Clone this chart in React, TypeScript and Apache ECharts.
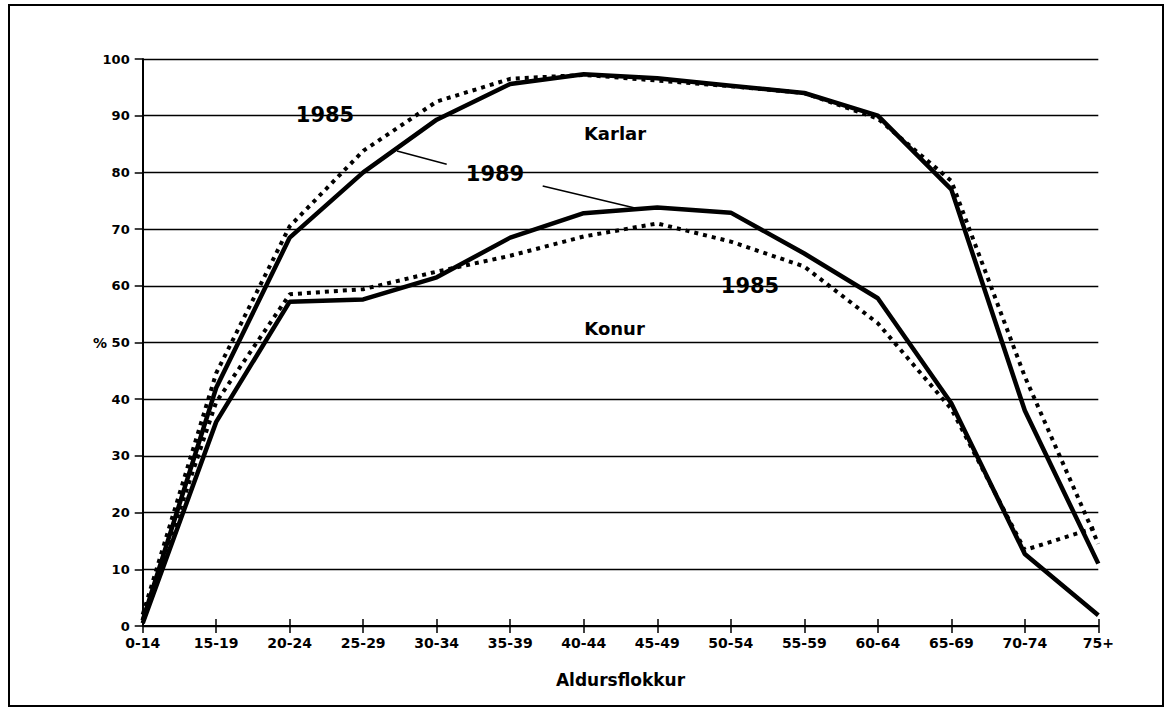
import React, { useEffect, useRef } from "react";
import * as echarts from "echarts";

const categories = ["0-14", "15-19", "20-24", "25-29", "30-34", "35-39", "40-44", "45-49", "50-54", "55-59", "60-64", "65-69", "70-74", "75+"];
const men1989 = [1, 42, 68.5, 80, 89.3, 95.6, 97.3, 96.6, 95.3, 94, 90, 77, 38, 11];
const men1985 = [2, 44.6, 70.5, 83.8, 92.5, 96.5, 97.2, 96.2, 95.2, 94, 89.5, 78.5, 44, 14.5];
const women1989 = [0.5, 36, 57.2, 57.6, 61.5, 68.5, 72.8, 73.8, 72.9, 65.7, 57.8, 39.3, 12.7, 1.9];
const women1985 = [1, 39.5, 58.5, 59.4, 62.5, 65.3, 68.7, 71, 67.8, 63.4, 53.4, 38.3, 13.4, 17.5];
const yTicks = [0, 10, 20, 30, 40, 50, 60, 70, 80, 90, 100];

const FONT = "'DejaVu Sans', 'Liberation Sans', Arial, sans-serif";

export default function App() {
  const ref = useRef<HTMLDivElement>(null);
  useEffect(() => {
    const chart = echarts.init(ref.current!, null, { renderer: "svg" });
    const solid = { color: "#000", width: 4.5, type: "solid" as const, cap: "butt" as const };
    const dotted = { color: "#000", width: 4, type: [4, 5] as any, cap: "butt" as const };
    const mk = (name: string, data: number[], ls: any) => ({
      name,
      type: "line",
      data,
      symbol: "none",
      lineStyle: ls,
      xAxisIndex: 0,
      yAxisIndex: 0,
      z: 5,
    });
    const textStyle = (size: number) => ({
      fill: "#000",
      font: `bold ${size}px ${FONT}`,
      align: "center",
      verticalAlign: "middle",
    });
    chart.setOption({
      animation: false,
      backgroundColor: "#fff",
      grid: { left: 142.7, right: 75.7, top: 59, bottom: 87, containLabel: false },
      xAxis: [
        {
          type: "category",
          data: categories,
          boundaryGap: false,
          position: "bottom",
          axisLine: { show: true, lineStyle: { color: "#000", width: 2 } },
          axisTick: { show: true, length: 7, lineStyle: { color: "#000", width: 1.5 } },
          axisLabel: { color: "#000", fontFamily: FONT, fontWeight: "bold", fontSize: 14, margin: 10 },
          name: "Aldursflokkur",
          nameLocation: "middle",
          nameGap: 45,
          nameTextStyle: { color: "#000", fontFamily: FONT, fontWeight: "bold", fontSize: 17, verticalAlign: "top" },
          splitLine: { show: false },
        },
        {
          type: "category",
          data: categories,
          boundaryGap: false,
          position: "bottom",
          axisLine: { show: false },
          axisTick: { show: true, inside: true, length: 7, lineStyle: { color: "#000", width: 1.5 } },
          axisLabel: { show: false },
          splitLine: { show: false },
        },
      ],
      yAxis: {
        type: "value",
        min: 0,
        max: 100,
        interval: 10,
        axisLine: { show: true, lineStyle: { color: "#000", width: 2 } },
        axisTick: { show: true, length: 8, lineStyle: { color: "#000", width: 1.5 } },
        axisLabel: {
          color: "#000",
          fontFamily: FONT,
          fontWeight: "bold",
          fontSize: 13,
          margin: 13,
          formatter: (v: number) => (yTicks.includes(v) ? String(v) : ""),
        },
        splitLine: { show: true, lineStyle: { color: "#000", width: 1.3 } },
      },
      series: [
        mk("Karlar 1985", men1985, dotted),
        mk("Konur 1985", women1985, dotted),
        mk("Karlar 1989", men1989, solid),
        mk("Konur 1989", women1989, solid),
      ],
      graphic: [
        {
          type: "rect",
          shape: { x: 9, y: 5, width: 1154, height: 701 },
          style: { fill: "none", stroke: "#000", lineWidth: 2 },
          z: 0,
          silent: true,
        },
        { type: "text", x: 100, y: 343, style: { text: "%", ...textStyle(14) }, z: 10 },
        { type: "text", x: 325, y: 115, style: { text: "1985", ...textStyle(21) }, z: 10 },
        { type: "text", x: 495, y: 174, style: { text: "1989", ...textStyle(21) }, z: 10 },
        { type: "text", x: 615, y: 133.5, style: { text: "Karlar", ...textStyle(18) }, z: 10 },
        { type: "text", x: 750, y: 285.5, style: { text: "1985", ...textStyle(21) }, z: 10 },
        { type: "text", x: 614.5, y: 328, style: { text: "Konur", ...textStyle(18) }, z: 10 },
        {
          type: "line",
          shape: { x1: 446.7, y1: 164.3, x2: 397, y2: 151 },
          style: { stroke: "#000", lineWidth: 1.5 },
          z: 10,
        },
        {
          type: "line",
          shape: { x1: 542.7, y1: 186, x2: 637, y2: 208.5 },
          style: { stroke: "#000", lineWidth: 1.5 },
          z: 10,
        },
      ],
    });
    return () => chart.dispose();
  }, []);
  return (
    <div
      ref={ref}
      style={{ position: "fixed", left: 0, top: 0, width: 1174, height: 713, background: "#fff" }}
    />
  );
}
